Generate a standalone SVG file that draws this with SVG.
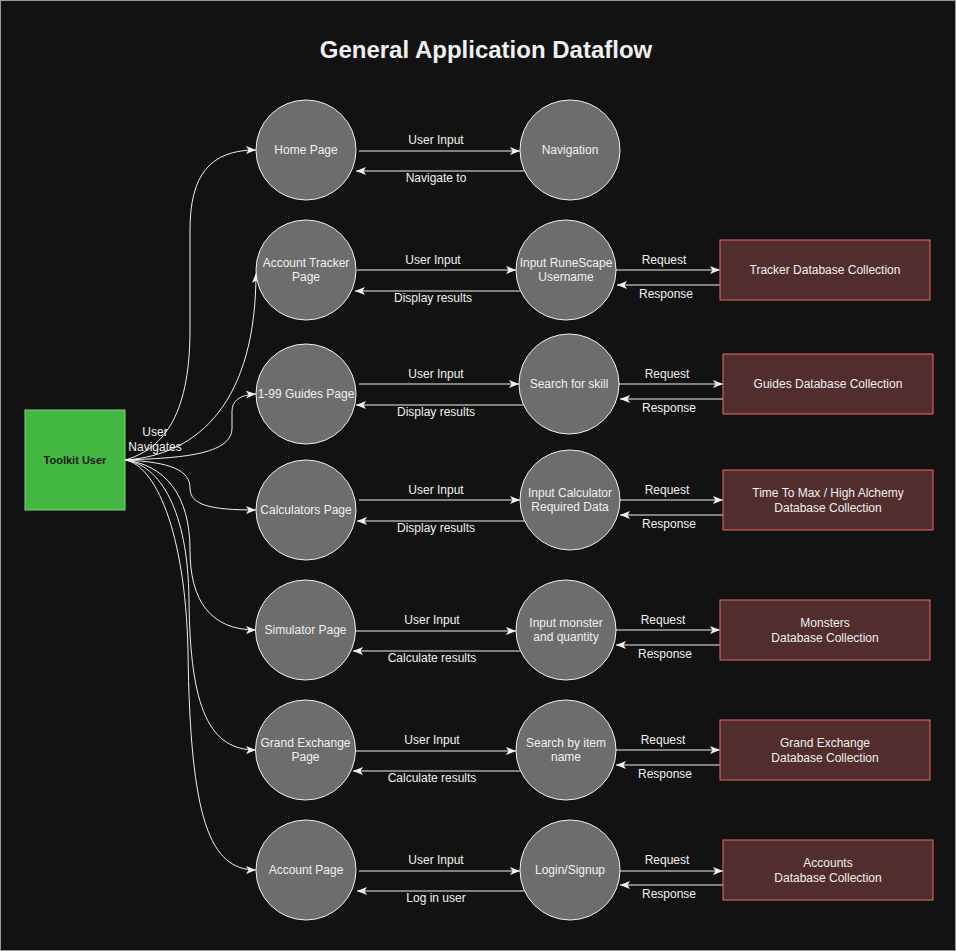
<svg xmlns="http://www.w3.org/2000/svg" width="956" height="951" viewBox="0 0 956 951">
<defs>
<style>
.bg{fill:#121212;stroke:#9a9a9a;stroke-width:1}
.c{fill:#6d6d6d;stroke:#f0f0f0;stroke-width:1}
.b{fill:#512d2d;stroke:#ea6b66;stroke-width:1}
.u{fill:#43b943;stroke:#82d482;stroke-width:1}
.t{font-family:"Liberation Sans",Arial,sans-serif;font-size:12px;fill:#f0f0f0;text-anchor:middle}
.l{font-family:"Liberation Sans",Arial,sans-serif;font-size:12px;fill:#f0f0f0;text-anchor:middle}
.title{font-family:"Liberation Sans",Arial,sans-serif;font-size:24px;font-weight:bold;fill:#f0f0f0;text-anchor:middle}
.ut{font-family:"Liberation Sans",Arial,sans-serif;font-size:11px;font-weight:bold;fill:#1a1a1a;text-anchor:middle}
.e{fill:none;stroke:#f0f0f0;stroke-width:1;marker-end:url(#arr)}
</style>
<marker id="arr" markerUnits="userSpaceOnUse" markerWidth="11" markerHeight="9" refX="10" refY="4" orient="auto">
<path d="M0,0 L10,4 L0,8 L2.5,4 Z" fill="#f0f0f0"/>
</marker>
</defs>
<rect class="bg" x="0.5" y="0.5" width="955" height="950"/>
<text class="title" x="486" y="58">General Application Dataflow</text>

<g id="connectors">
<path class="e" d="M125,460 C160,450 190,420 190,330 L190,230 C190,175 210,150 256,150"/>
<path class="e" d="M125,460 C200,455 256,400 256,273"/>
<path class="e" d="M125,460 C180,458 232,455 232,428 L232,412 C232,400 240,395 256,394"/>
<path class="e" d="M125,460 C170,462 190,470 190,488 C190,505 210,510 256,510"/>
<path class="e" d="M125,460 C165,465 190,495 190,550 C190,600 210,630 256,630"/>
<path class="e" d="M125,460 C160,465 188,510 189,600 C190,710 210,750 256,750"/>
<path class="e" d="M125,460 C155,465 185,530 188,650 C190,820 210,870 256,870"/>
<text class="l" x="155" y="436" fill="#dddddd">User</text>
<text class="l" x="155" y="451">Navigates</text>

<path class="e" d="M359,151 L520,151"/>
<path class="e" d="M524.6,171 L356,171"/>
<text class="l" x="436" y="144">User Input</text>
<text class="l" x="436" y="182">Navigate to</text>

<path class="e" d="M357,270 L516,270"/>
<path class="e" d="M520.6,291 L355,291"/>
<text class="l" x="433" y="264">User Input</text>
<text class="l" x="433" y="302">Display results</text>
<path class="e" d="M616,270 L720,270"/>
<path class="e" d="M720,285 L617,285"/>
<text class="l" x="664" y="264">Request</text>
<text class="l" x="666" y="298">Response</text>

<path class="e" d="M359,384 L519,384"/>
<path class="e" d="M523.6,405 L356,405"/>
<text class="l" x="436" y="378">User Input</text>
<text class="l" x="436" y="416">Display results</text>
<path class="e" d="M619,384 L723,384"/>
<path class="e" d="M723,399 L620,399"/>
<text class="l" x="667" y="378">Request</text>
<text class="l" x="669" y="412">Response</text>

<path class="e" d="M359,500 L520,500"/>
<path class="e" d="M524.6,521 L357,521"/>
<text class="l" x="436" y="494">User Input</text>
<text class="l" x="436" y="532">Display results</text>
<path class="e" d="M620,500 L723,500"/>
<path class="e" d="M723,515 L620,515"/>
<text class="l" x="667" y="494">Request</text>
<text class="l" x="669" y="528">Response</text>

<path class="e" d="M355,631 L516,631"/>
<path class="e" d="M520.6,651 L353,651"/>
<text class="l" x="432" y="624">User Input</text>
<text class="l" x="432" y="662">Calculate results</text>
<path class="e" d="M616,630 L720,630"/>
<path class="e" d="M720,645 L616,645"/>
<text class="l" x="663" y="624">Request</text>
<text class="l" x="665" y="658">Response</text>

<path class="e" d="M355,751 L516,751"/>
<path class="e" d="M520.6,771 L353,771"/>
<text class="l" x="432" y="744">User Input</text>
<text class="l" x="432" y="782">Calculate results</text>
<path class="e" d="M616,750 L720,750"/>
<path class="e" d="M720,765 L616,765"/>
<text class="l" x="663" y="744">Request</text>
<text class="l" x="665" y="778">Response</text>

<path class="e" d="M359,871 L520,871"/>
<path class="e" d="M524.6,891 L357,891"/>
<text class="l" x="436" y="864">User Input</text>
<text class="l" x="436" y="902">Log in user</text>
<path class="e" d="M620,871 L723,871"/>
<path class="e" d="M723,885 L620,885"/>
<text class="l" x="667" y="864">Request</text>
<text class="l" x="669" y="898">Response</text>
</g>

<g id="toolkit-user"><rect class="u" x="25" y="410" width="100" height="100"/><text class="ut" x="75" y="464">Toolkit User</text></g>

<g id="home-page"><circle class="c" cx="306" cy="150" r="50"/><text class="t" x="306" y="154">Home Page</text></g>
<g id="navigation"><circle class="c" cx="570" cy="150" r="50"/><text class="t" x="570" y="154">Navigation</text></g>

<g id="account-tracker-page"><circle class="c" cx="306" cy="270" r="50"/><text class="t" x="306" y="267">Account Tracker</text><text class="t" x="306" y="281">Page</text></g>
<g id="input-username"><circle class="c" cx="566" cy="270" r="50"/><text class="t" x="566" y="267">Input RuneScape</text><text class="t" x="566" y="281">Username</text></g>
<g id="tracker-db"><rect class="b" x="720" y="240" width="210" height="60"/><text class="t" x="825" y="274">Tracker Database Collection</text></g>

<g id="guides-page"><circle class="c" cx="306" cy="394" r="50"/><text class="t" x="306" y="398">1-99 Guides Page</text></g>
<g id="search-skill"><circle class="c" cx="569" cy="384" r="50"/><text class="t" x="569" y="388">Search for skill</text></g>
<g id="guides-db"><rect class="b" x="723" y="354" width="210" height="60"/><text class="t" x="828" y="388">Guides Database Collection</text></g>

<g id="calculators-page"><circle class="c" cx="306" cy="510" r="50"/><text class="t" x="306" y="514">Calculators Page</text></g>
<g id="input-calculator"><circle class="c" cx="570" cy="500" r="50"/><text class="t" x="570" y="497">Input Calculator</text><text class="t" x="570" y="511">Required Data</text></g>
<g id="ttm-db"><rect class="b" x="723" y="470" width="210" height="60"/><text class="t" x="828" y="497">Time To Max / High Alchemy</text><text class="t" x="828" y="512">Database Collection</text></g>

<g id="simulator-page"><circle class="c" cx="305.5" cy="630" r="50"/><text class="t" x="305.5" y="634">Simulator Page</text></g>
<g id="input-monster"><circle class="c" cx="566" cy="630" r="50"/><text class="t" x="566" y="627">Input monster</text><text class="t" x="566" y="641">and quantity</text></g>
<g id="monsters-db"><rect class="b" x="720" y="600" width="210" height="60"/><text class="t" x="825" y="627">Monsters</text><text class="t" x="825" y="642">Database Collection</text></g>

<g id="ge-page"><circle class="c" cx="305.5" cy="750" r="50"/><text class="t" x="305.5" y="747">Grand Exchange</text><text class="t" x="305.5" y="761">Page</text></g>
<g id="search-item"><circle class="c" cx="566" cy="750" r="50"/><text class="t" x="566" y="747">Search by item</text><text class="t" x="566" y="761">name</text></g>
<g id="ge-db"><rect class="b" x="720" y="720" width="210" height="60"/><text class="t" x="825" y="747">Grand Exchange</text><text class="t" x="825" y="762">Database Collection</text></g>

<g id="account-page"><circle class="c" cx="306" cy="870" r="50"/><text class="t" x="306" y="874">Account Page</text></g>
<g id="login-signup"><circle class="c" cx="570" cy="870" r="50"/><text class="t" x="570" y="874">Login/Signup</text></g>
<g id="accounts-db"><rect class="b" x="723" y="840" width="210" height="60"/><text class="t" x="828" y="867">Accounts</text><text class="t" x="828" y="882">Database Collection</text></g>
</svg>
